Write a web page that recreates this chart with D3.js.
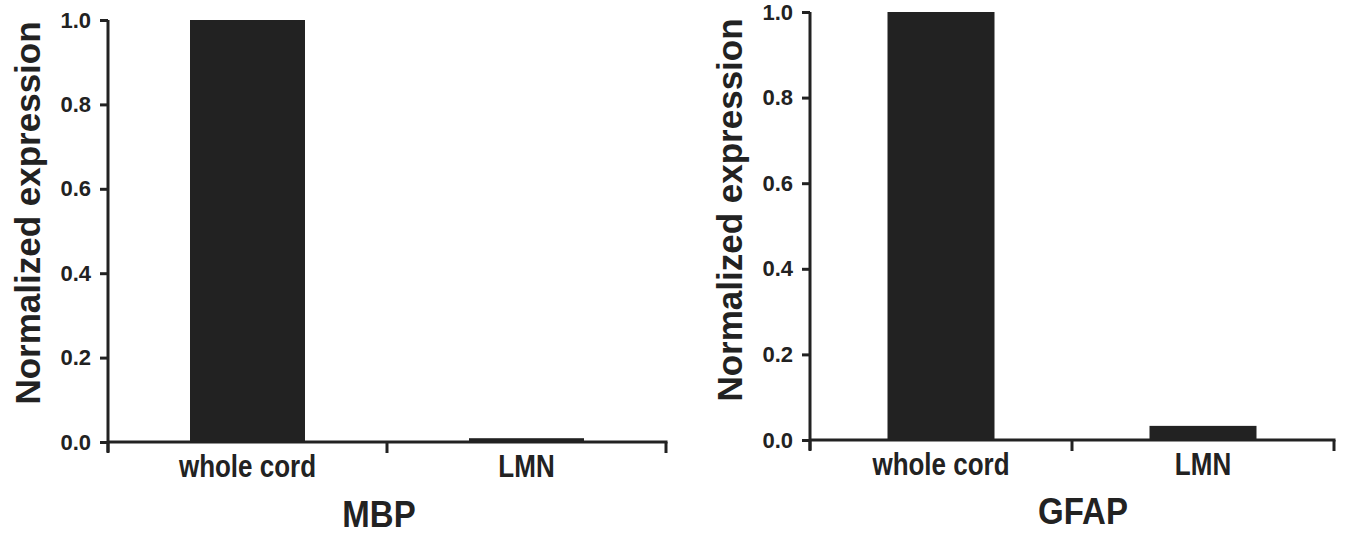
<!DOCTYPE html>
<html><head><meta charset="utf-8">
<script src="https://cdn.jsdelivr.net/npm/d3@7"></script>
<style>body{margin:0;background:#fff}svg{display:block}text{font-family:"Liberation Sans",Arial,sans-serif;font-weight:bold;fill:#222}</style>
</head><body>
<script>
const categories = ["whole cord", "LMN"];
const mbpValues = [1.0, 0.009];
const gfapValues = [1.0, 0.033];
const yTicks = [0, 0.2, 0.4, 0.6, 0.8, 1.0];
const titles = ["MBP", "GFAP"];
const yLabel = "Normalized expression";

const W = 1346, H = 536;
const svg = d3.select("body").append("svg").attr("width", W).attr("height", H);
const ink = "#222";

const panels = [
  {vals: mbpValues, title: titles[0], x0: 108, x1: 666, yTop: 20, yBot: 442, ylabX: 27, ylabY: 213, barW: 115, titleX: 379, titleY: 527},
  {vals: gfapValues, title: titles[1], x0: 810, x1: 1334, yTop: 12, yBot: 440, ylabX: 729, ylabY: 210, barW: 107, titleX: 1083, titleY: 524}
];

panels.forEach(p => {
  const g = svg.append("g");
  const x = d3.scaleBand().domain(categories).range([p.x0, p.x1]);
  const y = d3.scaleLinear().domain([0, 1]).range([p.yBot, p.yTop]);

  g.selectAll("rect.bar").data(p.vals).join("rect")
    .attr("class", "bar")
    .attr("x", (d, i) => x(categories[i]) + x.bandwidth() / 2 - p.barW / 2)
    .attr("width", p.barW)
    .attr("y", d => y(d))
    .attr("height", d => y(0) - y(d))
    .attr("fill", ink);

  // y axis
  const ya = g.append("g").attr("transform", `translate(${p.x0},0)`)
    .call(d3.axisLeft(y).tickValues(yTicks).tickFormat(d3.format(".1f")).tickSize(8).tickPadding(9));
  ya.select(".domain").remove();
  ya.append("line").attr("x1", 0).attr("x2", 0).attr("y1", p.yTop).attr("y2", p.yBot + 10)
    .attr("stroke", ink).attr("stroke-width", 3);
  ya.selectAll(".tick line").attr("stroke", ink).attr("stroke-width", 3);
  ya.selectAll(".tick text").style("font-size", "22px").attr("fill", ink);

  // x axis
  const xa = g.append("g").attr("transform", `translate(0,${p.yBot})`);
  xa.append("line").attr("x1", p.x0).attr("x2", p.x1 + 1.5).attr("y1", 0).attr("y2", 0)
    .attr("stroke", ink).attr("stroke-width", 3);
  const bounds = [p.x0, x(categories[1]), p.x1];
  xa.selectAll("line.xt").data(bounds).join("line").attr("class", "xt")
    .attr("x1", d => d).attr("x2", d => d).attr("y1", 0).attr("y2", 11)
    .attr("stroke", ink).attr("stroke-width", 3);
  xa.selectAll("text.cat").data(categories).join("text").attr("class", "cat")
    .attr("transform", d => `translate(${x(d) + x.bandwidth() / 2},35) scale(1,1.18)`)
    .attr("text-anchor", "middle").style("font-size", "26px").text(d => d);

  g.append("text").attr("transform", `translate(${p.titleX},${p.titleY}) scale(1,1.12)`).attr("text-anchor", "middle")
    .style("font-size", "33px").text(p.title);

  g.append("text").attr("transform", `translate(${p.ylabX + 13},${p.ylabY}) rotate(-90)`)
    .attr("text-anchor", "middle").style("font-size", "35px").text(yLabel);
});
</script>
</body></html>
